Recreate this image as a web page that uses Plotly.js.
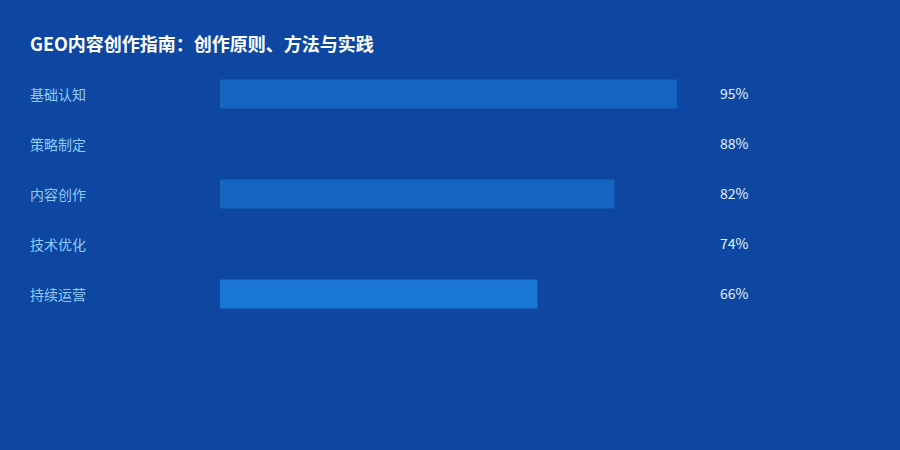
<!DOCTYPE html>
<html>
<head>
<meta charset="utf-8">
<script src="https://cdn.plot.ly/plotly-3.0.1.min.js"></script>
<style>
  html, body { margin: 0; padding: 0; background: #0d47a1; }
  #chart { width: 900px; height: 450px; }
</style>
</head>
<body>
<div id="chart"></div>
<script>
const stages = ['基础认知', '策略制定', '内容创作', '技术优化', '持续运营'];
const scores = [95, 88, 82, 74, 66];
const barColors = ['#1565c0', '#0d47a1', '#1565c0', '#0d47a1', '#1976d2'];

const FONT = '"Noto Sans CJK SC", "Noto Sans", sans-serif';

// plot area spans x 220..701 px, so labels sit outside it in paper coords
// (annotations add ~2px padding, hence the small offsets)
const plotLeft = 220, plotWidth = 481;
const px = p => (p - plotLeft) / plotWidth;

const trace = {
  type: 'bar',
  orientation: 'h',
  x: scores,
  y: stages,
  width: 0.58,
  marker: { color: barColors, line: { width: 0 } },
  hoverinfo: 'none',
  showlegend: false
};

const annotations = [];
stages.forEach((s, i) => {
  annotations.push({
    xref: 'paper', yref: 'y', x: px(28), y: s,
    xanchor: 'left', yanchor: 'middle', showarrow: false,
    text: s, font: { family: FONT, size: 14, color: '#90caf9' }
  });
  annotations.push({
    xref: 'paper', yref: 'y', x: px(718), y: s, yshift: 1,
    xanchor: 'left', yanchor: 'middle', showarrow: false,
    text: scores[i] + '%', font: { family: FONT, size: 14, color: '#e3f2fd' }
  });
});

const layout = {
  width: 900,
  height: 450,
  paper_bgcolor: '#0d47a1',
  plot_bgcolor: '#0d47a1',
  margin: { l: 220, r: 199, t: 69, b: 131 },
  title: {
    text: '<b>GEO内容创作指南：创作原则、方法与实践</b>',
    x: 30 / 900, xanchor: 'left', xref: 'container',
    y: 1 - 45 / 450, yanchor: 'middle', yref: 'container',
    font: { family: FONT, size: 18, color: '#ffffff' }
  },
  xaxis: { range: [0, 100], visible: false, fixedrange: true },
  yaxis: {
    type: 'category',
    range: [4.5, -0.5],
    visible: false,
    fixedrange: true
  },
  annotations: annotations
};

Plotly.newPlot('chart', [trace], layout, { displayModeBar: false, staticPlot: true });
</script>
</body>
</html>
